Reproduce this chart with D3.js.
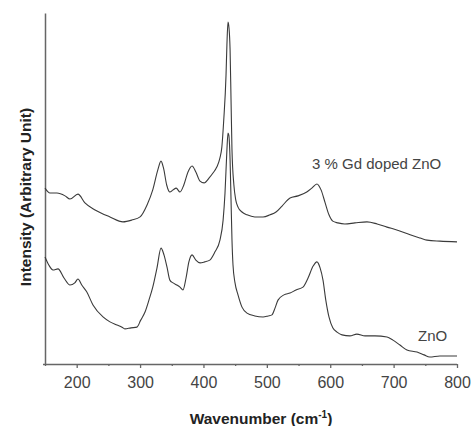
<!DOCTYPE html>
<html>
<head>
<meta charset="utf-8">
<script src="https://cdn.jsdelivr.net/npm/d3@7"></script>
<style>
  html, body { margin: 0; padding: 0; background: #fff; }
  svg { display: block; font-family: "Liberation Sans", Arial, sans-serif; }
</style>
</head>
<body>
<svg id="chart" width="473" height="426"></svg>
<script>
// ---- data ----
const seriesNames = ["3 % Gd doped ZnO", "ZnO"];

const dopedWn = [150,157.9,168.9,181.6,189.4,202,213,229,252.5,273,287,300,311,320,328,333,337,342,347,352,357,363,369,375.6,382,388,394.6,401,409,415,421,426,429,432,435.6,437,438.7,440.3,442,443.5,445,448,451,454.5,460.8,468.7,481,494,505,514.5,524,536.6,549,563,571,579,585.5,592,598,604,612,623,639,658,674,689.6,705,726,741.7,752.7,773,800];
const dopedI  = [50.1,48.7,48.7,47.9,47.0,48.4,45.9,43.9,41.9,40.5,41.0,41.9,45.3,49.6,55.3,57.8,55.8,51.0,49.0,49.6,50.1,49.0,51.0,54.7,56.4,54.7,52.1,51.6,53.0,54.4,56.1,58.7,61.8,69.5,82.3,90.9,97.4,95.7,89.5,75.2,61.0,51.0,46.7,44.7,43.3,42.5,41.9,41.9,42.5,43.3,45.0,47.3,47.9,49.0,50.1,51.3,49.6,45.9,42.5,40.7,40.2,39.9,40.2,40.5,39.9,39.0,38.2,36.8,35.9,35.3,35.0,34.8];

const znoWn = [150,156,162.6,170.5,180,189.4,197,202,208,216,225.7,241.5,252.5,263.6,271.5,276,285.7,295,301,307.8,314,320,326.7,333,337.7,342.5,347,352,358,363,367.7,372.5,377,382,388,394.6,402,410,418,426,431,434,437,438.7,440,442,443.5,445,446.6,449.8,454.5,460.8,468.7,481,494,502,508,513,517.6,527,536.6,546,557,565,573,579,584,588.6,593,598,604,610.7,618.6,631,642,655,670.6,689.6,699,710,721,737,748,757,773,800];
const znoI  = [30.5,28.2,26.8,27.1,24.5,22.5,23.1,24.2,22.5,20.5,16.8,13.4,12.0,11.1,10.5,10.0,10.3,10.5,12.5,14.8,18.2,21.9,27.4,33.0,31.1,27.6,23.9,23.1,22.5,21.9,21.1,24.5,29.1,31.1,29.6,28.8,29.1,29.6,31.9,35.3,41.0,48.7,61.0,65.8,65.2,58.1,46.7,35.3,28.2,23.1,19.7,16.2,14.5,13.7,13.4,13.7,14.0,16.0,18.2,19.7,20.2,21.1,21.9,24.5,27.9,29.1,27.4,23.9,18.2,13.4,10.3,9.1,8.3,8.0,8.5,8.0,8.0,7.7,6.8,5.4,4.0,3.4,2.6,2.0,2.3,2.3];

const xMajorTicks = [200,300,400,500,600,700,800];
const xMinorTicks = [150,250,350,450,550,650,750];
const xTitle = "Wavenumber (cm";
const xTitleSup = "-1";
const yTitle = "Intensity (Arbitrary Unit)";

// ---- drawing ----
const svg = d3.select("#chart");
const mLeft = 45, mRight = 457, mTop = 13, mBottom = 364;

const x = d3.scaleLinear().domain([150, 800]).range([mLeft, mRight]);
const y = d3.scaleLinear().domain([0, 100]).range([mBottom, mTop]);

const axisColor = "#666";
const textColor = "#444";

// x axis (major ticks with labels)
const gx = svg.append("g").attr("transform", `translate(0,${mBottom})`);
gx.call(d3.axisBottom(x).tickValues(xMajorTicks).tickSize(4).tickSizeOuter(0).tickFormat(d3.format("d")));
gx.select(".domain").attr("stroke", axisColor).attr("stroke-width", 1.5)
  .attr("d", `M${mLeft - 2},0.5H${mRight}`);
gx.selectAll(".tick line").attr("stroke", axisColor).attr("stroke-width", 1.3);
gx.selectAll(".tick text").attr("fill", textColor).attr("font-size", 16)
  .attr("font-family", "'Liberation Sans', Arial, sans-serif").attr("dy", "1.05em");

// minor ticks
const gm = svg.append("g").attr("transform", `translate(0,${mBottom})`);
gm.call(d3.axisBottom(x).tickValues(xMinorTicks).tickSize(2).tickFormat(""));
gm.select(".domain").remove();
gm.selectAll(".tick line").attr("stroke", axisColor).attr("stroke-width", 1.3);

// y axis (line only)
const gy = svg.append("g").attr("transform", `translate(${mLeft},0)`);
gy.call(d3.axisLeft(y).tickValues([]).tickSizeOuter(0));
gy.select(".domain").attr("stroke", axisColor).attr("stroke-width", 1.5);

// series
const line = d3.line().curve(d3.curveMonotoneX).x(d => x(d[0])).y(d => y(d[1]));
const doped = dopedWn.map((w, i) => [w, dopedI[i]]);
const zno = znoWn.map((w, i) => [w, znoI[i]]);

svg.append("path").datum(doped).attr("d", line)
  .attr("fill", "none").attr("stroke", "#3a3a3a").attr("stroke-width", 1.1).attr("stroke-linejoin", "round");
svg.append("path").datum(zno).attr("d", line)
  .attr("fill", "none").attr("stroke", "#3a3a3a").attr("stroke-width", 1.1).attr("stroke-linejoin", "round");

// series labels
svg.append("text").attr("x", 312).attr("y", 169).attr("font-size", 15).attr("fill", textColor)
  .text(seriesNames[0]);
svg.append("text").attr("x", 418).attr("y", 341).attr("font-size", 15).attr("fill", textColor)
  .text(seriesNames[1]);

// axis titles
const xt = svg.append("text").attr("x", 261).attr("y", 424).attr("text-anchor", "middle")
  .attr("font-size", 15.5).attr("font-weight", "bold").attr("fill", "#222");
xt.append("tspan").text(xTitle);
xt.append("tspan").attr("font-size", 10).attr("dy", -6).text(xTitleSup);
xt.append("tspan").attr("dy", 6).text(")");

svg.append("text").attr("transform", `translate(31,197) rotate(-90)`).attr("text-anchor", "middle")
  .attr("font-size", 15.5).attr("font-weight", "bold").attr("fill", "#222").text(yTitle);
</script>
</body>
</html>
